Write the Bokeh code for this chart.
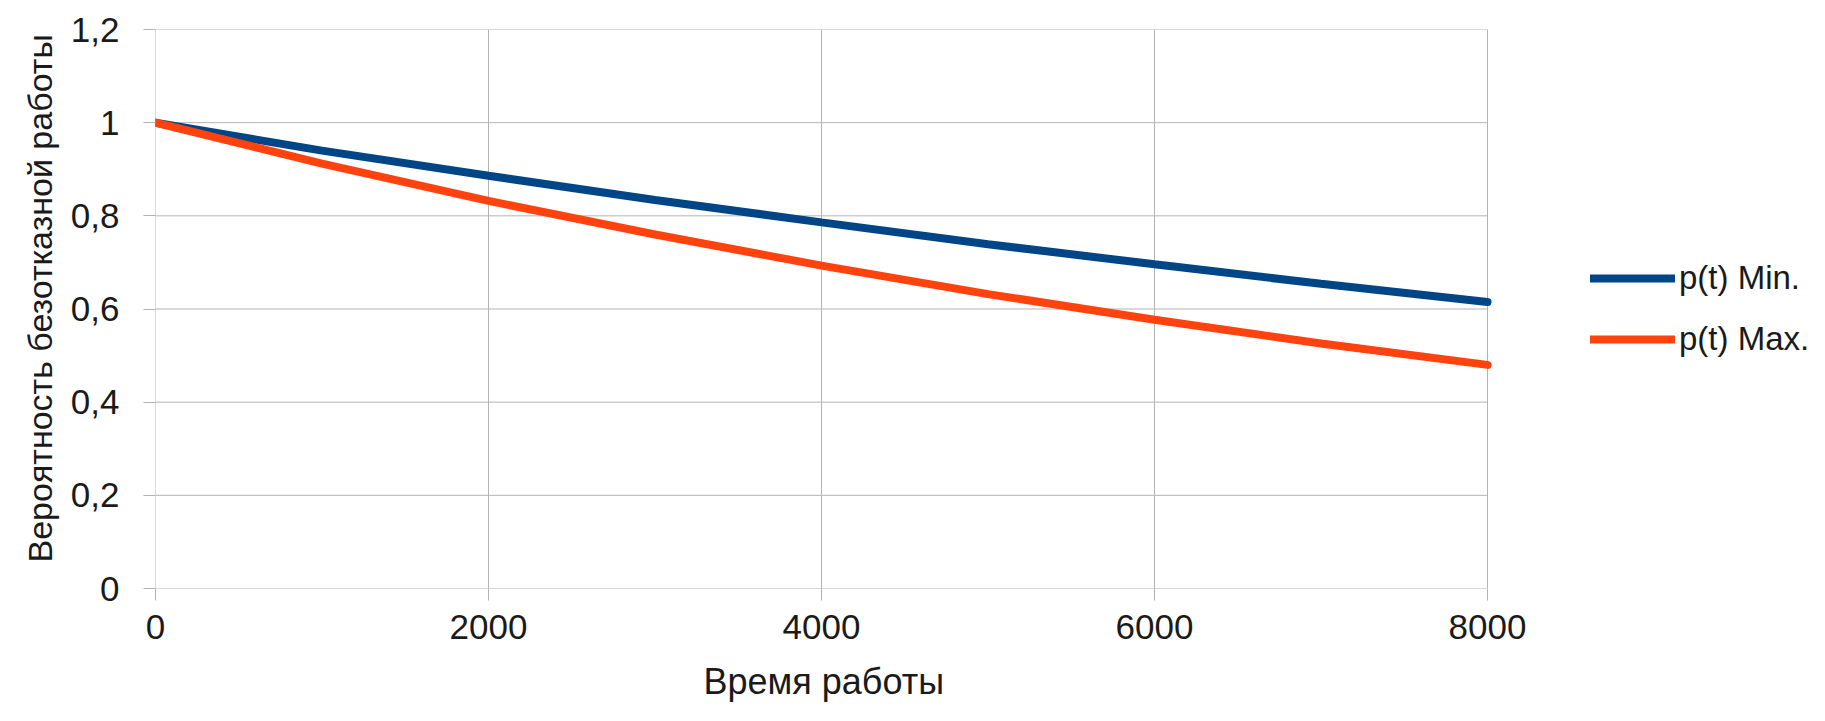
from bokeh.plotting import figure
from bokeh.models import Range1d, Legend, LegendItem, FixedTicker, CustomJSTickFormatter, Title
from bokeh.embed import file_html
from bokeh.resources import INLINE

# Data
t = [0, 1000, 2000, 3000, 4000, 5000, 6000, 7000, 8000]
p_min = [1.0, 0.940, 0.886, 0.834, 0.786, 0.739, 0.696, 0.654, 0.615]
p_max = [1.0, 0.912, 0.832, 0.760, 0.693, 0.632, 0.577, 0.526, 0.480]
series_names = ["p(t) Min.", "p(t) Max."]
x_ticks = [0, 2000, 4000, 6000, 8000]
y_ticks = [0, 0.2, 0.4, 0.6, 0.8, 1.0, 1.2]

FONT = "Liberation Sans"
GRID = "#b3b3b3"
BLUE = "#004586"
ORANGE = "#ff420e"

# Layout: frame spans 155..1825 px; the data area (0..8000) spans 155..1487 px,
# the remainder of the frame holds the legend.
W, H = 1825, 721
LEFT, TOP, BOTTOM = 155, 29, 133
PLOT_RIGHT = 1487
x_max = x_ticks[-1]
x_end = x_max * (W - LEFT) / (PLOT_RIGHT - LEFT)

p = figure(width=W, height=H, output_backend="svg", toolbar_location=None,
           x_range=Range1d(0, x_end), y_range=Range1d(0, y_ticks[-1]),
           min_border_left=LEFT, min_border_right=0, min_border_top=TOP, min_border_bottom=BOTTOM)
p.outline_line_color = None
p.background_fill_color = "white"
p.border_fill_color = "white"
p.xgrid.grid_line_color = None
p.ygrid.grid_line_color = None

# grid lines limited to the data area
p.segment(x0=[0] * len(y_ticks), x1=[x_max] * len(y_ticks), y0=y_ticks, y1=y_ticks,
          line_color=GRID, line_width=1)
p.segment(x0=x_ticks, x1=x_ticks, y0=[0] * len(x_ticks), y1=[y_ticks[-1]] * len(x_ticks),
          line_color=GRID, line_width=1)

r1 = p.line(t, p_min, line_color=BLUE, line_width=8, line_cap="round")
r2 = p.line(t, p_max, line_color=ORANGE, line_width=8, line_cap="round")

for ax in (p.xaxis[0], p.yaxis[0]):
    ax.axis_line_color = None
    ax.major_tick_line_color = GRID
    ax.major_tick_out = 12
    ax.major_tick_in = 0
    ax.minor_tick_line_color = None
    ax.major_label_text_font = FONT
    ax.major_label_text_font_size = "35px"
    ax.major_label_text_color = "#1a1a1a"

p.xaxis.ticker = FixedTicker(ticks=x_ticks)
p.yaxis.ticker = FixedTicker(ticks=y_ticks)
p.yaxis.formatter = CustomJSTickFormatter(code="""
    if (tick == 0) return "0";
    let s = (Math.round(tick*10)/10).toString();
    return s.replace('.', ',');
""")
p.xaxis.major_label_standoff = 14
p.yaxis.major_label_standoff = 24

# x-axis title, centred under the data area (not the whole frame)
xtitle = Title(text="Время работы", align="left", offset=548, standoff=35,
               text_font=FONT, text_font_size="36px", text_font_style="normal",
               text_color="#1a1a1a")
p.add_layout(xtitle, "below")

# y-axis title, placed as in the reference
ytitle = Title(text="Вероятность безотказной работы", align="left", offset=26, standoff=18,
               text_font=FONT, text_font_size="34px", text_font_style="normal",
               text_color="#1a1a1a")
p.add_layout(ytitle, "left")

legend = Legend(items=[LegendItem(label=series_names[0], renderers=[r1]),
                       LegendItem(label=series_names[1], renderers=[r2])],
                location=(1435, 229), orientation="vertical",
                glyph_width=85, glyph_height=40, spacing=21, label_standoff=4,
                padding=0, margin=0, border_line_color=None,
                background_fill_alpha=0,
                label_text_font=FONT, label_text_font_size="33px", label_text_color="#1a1a1a")
p.add_layout(legend, "center")

open("out.html", "w").write(file_html(p, INLINE))
